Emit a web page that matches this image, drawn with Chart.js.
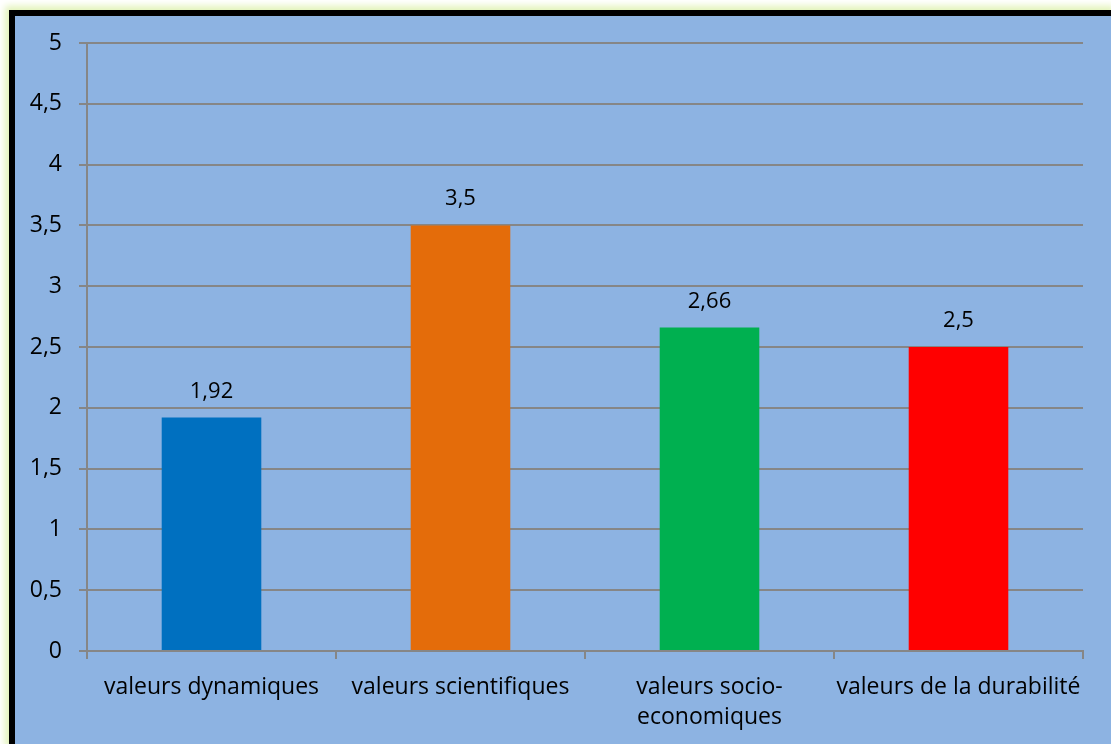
<!DOCTYPE html>
<html><head><meta charset="utf-8">
<script src="https://cdn.jsdelivr.net/npm/chart.js@4/dist/chart.umd.min.js"></script>
<style>
html,body{margin:0;padding:0;background:#fff;width:1111px;height:744px;overflow:hidden;}
#frame{position:absolute;left:9px;top:10px;width:1102px;height:734px;box-sizing:border-box;
border-left:6px solid #000;border-top:6px solid #000;background:#8DB3E2;
box-shadow:0 0 7px 4px #e2f3b8;}
#c{display:block;}
</style></head><body>
<div id="frame"><canvas id="c" width="1096" height="728"></canvas></div>
<script>
const categories = ["valeurs dynamiques", "valeurs scientifiques", ["valeurs socio-", "economiques"], "valeurs de la durabilité"];
const values = [1.92, 3.5, 2.66, 2.5];
const valueLabels = ["1,92", "3,5", "2,66", "2,5"];
const barColors = ["#0070C0", "#E46C0A", "#00B050", "#FF0000"];
const yTicks = [0, 0.5, 1, 1.5, 2, 2.5, 3, 3.5, 4, 4.5, 5];

const FONT = "'Open Sans', 'Liberation Sans', sans-serif";
const gridCol = "#868686";

const labelPlugin = {
  id: 'vlabels',
  afterDatasetsDraw(chart) {
    const ctx = chart.ctx;
    const meta = chart.getDatasetMeta(0);
    ctx.save();
    ctx.font = "22px " + FONT;
    ctx.fillStyle = "#000";
    ctx.textAlign = "center";
    ctx.textBaseline = "alphabetic";
    meta.data.forEach((bar, i) => {
      ctx.fillText(valueLabels[i], bar.x, bar.y - 20);
    });
    ctx.restore();
  }
};

new Chart(document.getElementById('c'), {
  type: 'bar',
  data: {
    labels: categories,
    datasets: [{ data: values, backgroundColor: barColors, categoryPercentage: 0.8, barPercentage: 0.5 }]
  },
  options: {
    responsive: false,
    animation: false,
    layout: { padding: { top: 27, right: 28, left: 0, bottom: 0 } },
    plugins: { legend: { display: false }, tooltip: { enabled: false } },
    scales: {
      x: {
        afterFit(s) { s.height = 93; s.paddingLeft = 0; s.paddingRight = 0; },
        grid: { offset: true, drawOnChartArea: false, color: gridCol, lineWidth: 2, tickLength: 8 },
        border: { display: true, color: gridCol, width: 2 },
        ticks: { color: "#000", font: { family: FONT, size: 23, lineHeight: 1.3 }, padding: 14, maxRotation: 0, autoSkip: false },
      },
      y: {
        min: 0, max: 5,
        afterFit(s) { s.width = 72; s.paddingTop = 0; s.paddingBottom = 0; },
        afterBuildTicks(s) { s.ticks = yTicks.map(v => ({ value: v })); },
        grid: { color: gridCol, lineWidth: 2, tickLength: 8 },
        border: { display: true, color: gridCol, width: 2 },
        ticks: {
          color: "#000", font: { family: FONT, size: 23 }, padding: 17,
          callback: v => String(v).replace('.', ',')
        }
      }
    }
  },
  plugins: [labelPlugin]
});
</script>
</body></html>
